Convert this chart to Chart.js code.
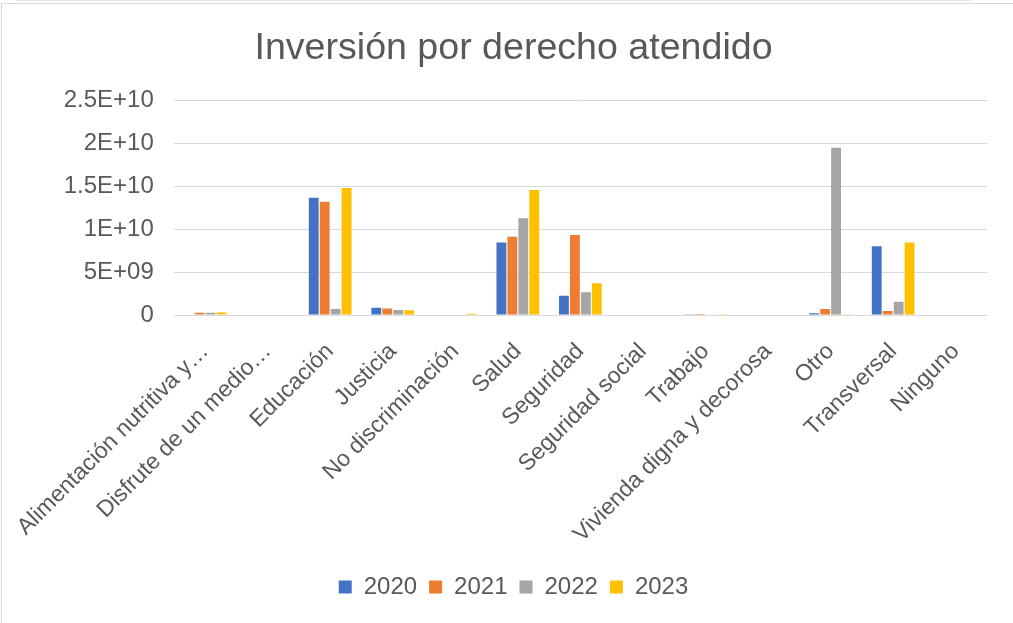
<!DOCTYPE html>
<html><head><meta charset="utf-8">
<script src="https://cdn.jsdelivr.net/npm/chart.js@4"></script>
<style>
html,body{margin:0;padding:0;background:#fff;}
#wrap{position:absolute;left:0;top:0;width:1013px;height:623px;}
#frame{position:absolute;left:1px;top:3px;width:1020px;height:630px;border-left:1px solid #d9d9d9;border-top:1px solid #d9d9d9;}
#topline{position:absolute;left:16px;top:0;width:954px;height:1px;background:#e3e3e3;}
canvas{position:absolute;left:0;top:0;}
</style></head>
<body>
<div id="wrap">
<div id="topline"></div>
<div id="frame"></div>
<canvas id="c" width="1013" height="623"></canvas>
</div>
<script>
const categories = ["Alimentación nutritiva y…","Disfrute de un medio…","Educación","Justicia","No discriminación","Salud","Seguridad","Seguridad social","Trabajo","Vivienda digna y decorosa","Otro","Transversal","Ninguno"];
const seriesNames = ["2020","2021","2022","2023"];
const v2020 = [0, 0, 1.363e10, 8.4e8, 0, 8.45e9, 2.23e9, 0, 1.0e8, 0, 2.0e8, 8.0e9, 0];
const v2021 = [2.5e8, 0, 1.317e10, 7.7e8, 0, 9.1e9, 9.3e9, 0, 1.2e8, 0, 7.0e8, 4.6e8, 0];
const v2022 = [2.5e8, 0, 7.0e8, 5.8e8, 0, 1.125e10, 2.66e9, 0, 0, 0, 1.945e10, 1.54e9, 0];
const v2023 = [3.0e8, 0, 1.478e10, 5.5e8, 1.5e8, 1.455e10, 3.7e9, 0, 8e7, 0, 8e7, 8.45e9, 0];
const yTicks = [0, 5e9, 1e10, 1.5e10, 2e10, 2.5e10];
const colors = ["#4472c4","#ed7d31","#a5a5a5","#ffc000"];

function fmt(v){
  if (v === 0) return "0";
  const e = Math.floor(Math.log10(v) + 1e-9);
  const m = Math.round(v / Math.pow(10, e) * 100) / 100;
  return m + "E+" + String(e).padStart(2, "0");
}

const FONT = "Liberation Sans, Arial, sans-serif";
const data = {
  labels: categories,
  datasets: [v2020, v2021, v2022, v2023].map((d, i) => ({
    label: seriesNames[i], data: d, backgroundColor: colors[i],
    categoryPercentage: 0.7, barPercentage: 0.9
  }))
};

new Chart(document.getElementById("c"), {
  type: "bar",
  data,
  options: {
    responsive: false, animation: false,
    layout: { padding: { left: 40, right: 26, top: 26, bottom: 14 } },
    plugins: {
      title: { display: true, text: "Inversión por derecho atendido", color: "#595959",
        font: { family: FONT, size: 37.6, weight: "normal" }, padding: { top: 0, bottom: 29 } },
      legend: { position: "bottom", labels: { color: "#595959", boxWidth: 13, boxHeight: 13,
        font: { family: FONT, size: 24 }, padding: 12 } },
      tooltip: { enabled: false }
    },
    scales: {
      x: {
        grid: { display: false },
        border: { display: false },
        ticks: { color: "#595959", maxRotation: 45, minRotation: 45, autoSkip: false, padding: 15,
          font: { family: FONT, size: 23 } }
      },
      y: {
        min: 0, max: 2.5e10,
        afterBuildTicks: (ax) => { ax.ticks = yTicks.map(v => ({ value: v })); },
        grid: { color: "#d9d9d9", drawTicks: false },
        border: { display: false },
        ticks: { color: "#595959", padding: 20, callback: (v) => fmt(v),
          font: { family: FONT, size: 24 } }
      }
    }
  }
});
</script>
</body></html>
